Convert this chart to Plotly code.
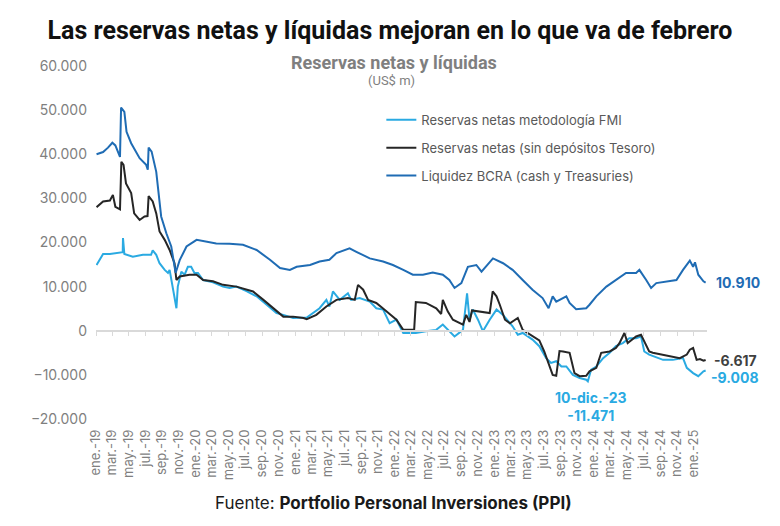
import plotly.graph_objects as go

# ---------------- DATA (US$ millones) ----------------
fmi_dates = ["2019-01-03","2019-01-27","2019-02-21","2019-03-28","2019-04-09","2019-04-10","2019-04-15",
    "2019-05-16","2019-06-22","2019-07-22","2019-07-28","2019-08-10","2019-08-22","2019-09-10","2019-09-22",
    "2019-09-28","2019-10-08","2019-10-16","2019-10-23","2019-10-28","2019-11-10","2019-11-22","2019-12-04",
    "2019-12-16","2019-12-28","2020-01-10","2020-01-29","2020-03-05","2020-04-11","2020-05-05","2020-05-30",
    "2020-07-06","2020-08-12","2020-09-18","2020-10-24","2020-11-18","2020-12-24","2021-02-12","2021-03-06",
    "2021-03-31","2021-04-25","2021-05-06","2021-05-19","2021-06-13","2021-07-13","2021-07-25","2021-08-25",
    "2021-10-01","2021-10-25","2021-11-19","2021-12-13","2022-01-07","2022-02-01","2022-03-19","2022-04-25",
    "2022-06-02","2022-06-26","2022-07-14","2022-08-08","2022-09-08","2022-09-23","2022-10-02","2022-10-14",
    "2022-11-02","2022-11-20","2022-12-15","2023-01-09","2023-02-02","2023-02-27","2023-03-09","2023-03-28",
    "2023-04-15","2023-05-21","2023-06-15","2023-07-10","2023-07-28","2023-08-16","2023-09-04","2023-09-22",
    "2023-10-16","2023-11-10","2023-12-04","2023-12-10","2023-12-16","2023-12-22","2024-01-10","2024-02-04",
    "2024-02-28","2024-03-22","2024-04-16","2024-05-10","2024-06-04","2024-06-22","2024-07-04","2024-07-22",
    "2024-09-11","2024-10-17","2024-11-23","2024-12-07","2024-12-30","2025-01-18","2025-02-06","2025-02-14"]
fmi_vals = [14900,17400,17400,17600,17800,21000,17400,
    16800,17200,17200,18200,17200,15300,13800,13100,
    13800,10000,7800,5100,10000,13400,12700,14500,
    14500,13100,13100,11500,11000,10000,9700,10000,
    9000,7800,5900,4000,3600,2900,3000,4000,
    5100,7000,5500,8900,7000,8500,7000,7400,
    6600,5100,4800,1700,2500,-500,-500,-100,
    200,1400,200,-1300,200,8500,2500,4800,
    2500,-100,2500,4800,3600,1700,1000,-900,
    -500,-2000,-3500,-6200,-7300,-6900,-8100,-8100,
    -10000,-10700,-11100,-11471,-10300,-8800,-8100,-6200,
    -5000,-3500,-2800,-1700,-1700,-1300,-4700,-5400,
    -6600,-6600,-6200,-8400,-9600,-10300,-9200,-9008]

netas_dates = ["2019-01-03","2019-01-27","2019-02-21","2019-03-04","2019-03-13","2019-03-30","2019-04-04",
    "2019-04-12","2019-04-21","2019-05-10","2019-05-21","2019-06-10","2019-06-28","2019-07-09","2019-07-13",
    "2019-07-28","2019-08-10","2019-08-22","2019-09-10","2019-09-28","2019-10-16","2019-10-23","2019-11-04",
    "2019-12-10","2020-01-05","2020-01-29","2020-03-05","2020-04-11","2020-05-30","2020-07-06","2020-07-30",
    "2020-09-06","2020-10-12","2020-11-18","2020-12-24","2021-01-31","2021-02-12","2021-03-19","2021-04-25",
    "2021-06-01","2021-07-13","2021-08-07","2021-08-19","2021-09-07","2021-09-25","2021-10-25","2021-12-01",
    "2022-01-07","2022-02-01","2022-02-25","2022-03-13","2022-03-19","2022-04-25","2022-06-02","2022-06-20",
    "2022-06-26","2022-07-14","2022-08-02","2022-08-26","2022-09-08","2022-09-20","2022-10-02","2022-10-11",
    "2022-11-08","2022-12-15","2022-12-26","2023-01-09","2023-01-21","2023-02-09","2023-02-27","2023-03-28",
    "2023-04-15","2023-05-21","2023-06-15","2023-07-03","2023-07-22","2023-08-03","2023-08-16","2023-08-28",
    "2023-09-10","2023-10-04","2023-10-22","2023-11-10","2023-12-04","2023-12-16","2024-01-10","2024-01-28",
    "2024-02-28","2024-03-22","2024-04-04","2024-04-22","2024-05-04","2024-06-04","2024-06-22","2024-07-04",
    "2024-07-22","2024-08-04","2024-09-11","2024-10-17","2024-11-11","2024-12-07","2024-12-18","2024-12-30",
    "2025-01-12","2025-01-24","2025-02-06","2025-02-14"]
netas_vals = [28000,29300,29500,30800,28100,27500,38300,
    37600,33400,31200,26600,25100,25900,26000,30500,
    29300,26600,22500,20600,18300,15300,11500,12300,
    12700,12700,11500,11200,10400,10000,9300,8900,
    7000,5100,3200,3200,2900,2600,3600,5500,
    7000,7400,7000,10400,9300,7000,6300,4400,
    2500,200,200,300,6500,6300,5100,3800,
    7000,4400,2500,1700,1400,3600,2000,4600,
    4400,4000,8900,7800,5900,2500,1700,2900,
    200,-1300,-2200,-4700,-8100,-10000,-10200,-4600,
    -4700,-5000,-9600,-10300,-10200,-9200,-8400,-5000,
    -4700,-3900,-2800,-500,-2800,-1300,-900,-2500,
    -4700,-5000,-5400,-5800,-6200,-5400,-4300,-3900,
    -6600,-6400,-6800,-6617]

liq_dates = ["2019-01-03","2019-01-27","2019-02-14","2019-03-02","2019-03-13","2019-03-20","2019-03-30",
    "2019-04-03","2019-04-15","2019-04-23","2019-05-10","2019-06-10","2019-07-04","2019-07-10","2019-07-13",
    "2019-07-24","2019-08-10","2019-08-28","2019-09-16","2019-10-04","2019-10-20","2019-11-04","2019-11-29",
    "2020-01-05","2020-02-11","2020-03-17","2020-05-05","2020-06-23","2020-08-12","2020-09-30","2020-11-06",
    "2020-12-12","2021-01-06","2021-02-24","2021-03-31","2021-05-06","2021-06-01","2021-07-19","2021-08-13",
    "2021-10-01","2021-11-19","2021-12-25","2022-02-01","2022-03-08","2022-04-14","2022-05-20","2022-06-26",
    "2022-07-20","2022-08-08","2022-09-02","2022-09-26","2022-10-27","2022-11-15","2022-12-27","2023-02-02",
    "2023-03-09","2023-04-15","2023-05-21","2023-06-27","2023-07-19","2023-08-03","2023-08-16","2023-09-22",
    "2023-10-04","2023-10-28","2023-12-04","2023-12-16","2024-01-10","2024-02-16","2024-03-22","2024-04-28",
    "2024-06-04","2024-06-16","2024-07-11","2024-07-29","2024-08-17","2024-09-23","2024-10-30","2024-11-23",
    "2024-12-18","2024-12-30","2025-01-06","2025-01-18","2025-02-06","2025-02-14"]
liq_vals = [40000,40500,41500,42600,42000,41000,39400,
    50600,49600,45100,42500,39100,37600,36500,41500,
    40600,36000,25900,22100,19100,13100,16000,19100,
    20600,20200,19800,19700,19500,18300,16100,14200,
    13800,14500,14900,15700,16100,17600,18700,17900,
    16400,15700,14900,13800,12700,12700,13200,12700,
    11500,9700,10800,14500,14900,13400,16400,15300,
    13800,11500,9300,7400,5100,7800,6600,7800,
    6300,4900,5100,5900,7800,10000,11500,13100,
    13100,13800,11500,9700,10800,11200,11500,13800,
    15900,14500,15500,12700,11200,10910]

series_names = ["Reservas netas metodología FMI",
                "Reservas netas (sin depósitos Tesoro)",
                "Liquidez BCRA (cash y Treasuries)"]
series_colors = ["#2aaae2", "#262626", "#1f6cb4"]

month_labels = ["ene.", "mar.", "may.", "jul.", "sep.", "nov."]
month_nums = [1, 3, 5, 7, 9, 11]
years = [2019, 2020, 2021, 2022, 2023, 2024, 2025]

min_date, min_label = "2023-12-10", "10-dic.-23"

# ---------------- FIGURE ----------------
tick_vals, tick_text = [], []
for yr in years:
    for mn, lab in zip(month_nums, month_labels):
        if yr == 2025 and mn > 1:
            break
        tick_vals.append(f"{yr}-{mn:02d}-01")
        tick_text.append(f"{lab}-{str(yr)[2:]}")

def fmt(v):
    return f"{v:,.0f}".replace(",", ".")

x_range = ["2019-01-01", "2025-02-19"]
fig = go.Figure()
for i, (d, v) in enumerate([(fmi_dates, fmi_vals), (netas_dates, netas_vals), (liq_dates, liq_vals)]):
    fig.add_trace(go.Scatter(x=d, y=v, mode="lines", name=series_names[i],
                             line=dict(color=series_colors[i], width=2),
                             legendgroup=f"g{i}"))

font_main = "Inter"
fig.update_layout(
    width=780, height=526,
    margin=dict(l=96, r=73, t=66, b=107),
    paper_bgcolor="white", plot_bgcolor="white",
    separators=",.",
    showlegend=True,
    legend=dict(x=0.467, y=0.89, xanchor="left", yanchor="top",
                font=dict(family=font_main, size=13, color="#595959"),
                bgcolor="rgba(0,0,0,0)", tracegroupgap=8, itemwidth=30),
    title=dict(text="<b>Las reservas netas y líquidas mejoran en lo que va de febrero</b>",
               x=0.5, xanchor="center", y=1 - 30 / 526, yanchor="middle",
               font=dict(family="Roboto", size=25, color="#111111")),
    font=dict(family=font_main),
)
fig.update_yaxes(range=[-20000, 60000], tickvals=[-20000, -10000, 0, 10000, 20000, 30000, 40000, 50000, 60000],
                 tickformat=",.0f", showgrid=False, zeroline=False, showline=False,
                 tickfont=dict(family=font_main, size=14, color="#7f7f7f"), ticklabelstandoff=8)
fig.update_xaxes(type="date", range=x_range, tickvals=tick_vals, ticktext=tick_text, tickangle=-90,
                 showgrid=False, zeroline=False, showline=False, ticks="",
                 tickfont=dict(family=font_main, size=13, color="#7f7f7f"), ticklabelstandoff=7)
# axis line with tick marks crossing at zero
fig.update_layout(xaxis2=dict(type="date", overlaying="x", matches="x", anchor="free", position=0.25,
                              range=x_range, tickvals=tick_vals, showticklabels=False,
                              showline=True, linecolor="#d9d9d9", linewidth=2,
                              ticks="outside", ticklen=4, tickcolor="#d9d9d9", tickwidth=1,
                              showgrid=False, zeroline=False))
fig.add_trace(go.Scatter(x=[x_range[0]], y=[None], xaxis="x2", showlegend=False, hoverinfo="skip"))

# subtitle
fig.add_annotation(text="<b>Reservas netas y líquidas</b>", xref="paper", yref="paper",
                   x=(394 - 96) / 611, y=(419 - 62) / 353, showarrow=False, xanchor="center", yanchor="middle",
                   font=dict(family="Roboto", size=18, color="#7f7f7f"))
fig.add_annotation(text="(US$ m)", xref="paper", yref="paper",
                   x=(391 - 96) / 611, y=(419 - 81) / 353, showarrow=False, xanchor="center", yanchor="middle",
                   font=dict(family="Roboto", size=13, color="#7f7f7f"))

# end labels
fig.add_annotation(text=f"<b>{fmt(liq_vals[-1])}</b>", x=liq_dates[-1], y=liq_vals[-1], xref="x", yref="y",
                   showarrow=False, xanchor="left", yanchor="middle", xshift=8,
                   font=dict(family=font_main, size=14, color=series_colors[2]))
fig.add_annotation(text=f"<b>{fmt(netas_vals[-1])}</b>", x=netas_dates[-1], y=netas_vals[-1], xref="x", yref="y",
                   showarrow=False, xanchor="left", yanchor="middle", xshift=6, yshift=-1,
                   font=dict(family=font_main, size=14, color="#404040"))
fig.add_annotation(text=f"<b>{fmt(fmi_vals[-1])}</b>", x=fmi_dates[-1], y=fmi_vals[-1], xref="x", yref="y",
                   showarrow=False, xanchor="left", yanchor="middle", xshift=3, yshift=-7,
                   font=dict(family=font_main, size=14, color=series_colors[0]))
min_val = fmi_vals[fmi_dates.index(min_date)]
fig.add_annotation(text=f"<b>{min_label}<br>{fmt(min_val)}</b>", x=min_date, y=min_val, xref="x", yref="y",
                   showarrow=False, xanchor="center", yanchor="top", yshift=-6, xshift=3,
                   font=dict(family=font_main, size=14, color=series_colors[0]))

# source
fig.add_annotation(text="Fuente: <b>Portfolio Personal Inversiones (PPI)</b>", xref="paper", yref="paper",
                   x=(393 - 96) / 611, y=(419 - 503) / 353, showarrow=False, xanchor="center", yanchor="middle",
                   font=dict(family=font_main, size=17, color="#1a1a1a"))

fig.write_html("out.html")
